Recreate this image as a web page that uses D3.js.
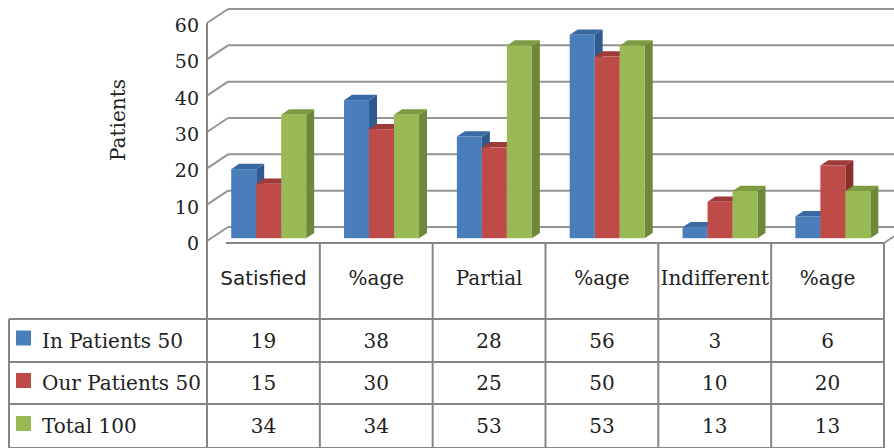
<!DOCTYPE html>
<html>
<head>
<meta charset="utf-8">
<script src="https://cdn.jsdelivr.net/npm/d3@7"></script>
<style>
  body { margin: 0; background: #fff; }
  svg { display: block; }
</style>
</head>
<body>
<div id="chart"></div>
<script>
// data
const categories = ["Satisfied", "%age", "Partial", "%age", "Indifferent", "%age"]
const seriesNames = ["In Patients 50", "Our Patients 50", "Total 100"]
const inPatients = [19, 38, 28, 56, 3, 6]
const ourPatients = [15, 30, 25, 50, 10, 20]
const total = [34, 34, 53, 53, 13, 13]
const yTicks = [0, 10, 20, 30, 40, 50, 60]

const seriesValues = [inPatients, ourPatients, total]

const W = 894, H = 448
const serif = "'DejaVu Serif', serif"
const sans = "'DejaVu Sans', sans-serif"

const styles = [
    { front: "#4a7ebb", side: "#2f5b8e", top: "#3b6aa3" },
    { front: "#be4b48", side: "#8c302e", top: "#9e3a37" },
    { front: "#98b954", side: "#6c8838", top: "#7d9c42" }
]

// 3D projection: z from 0 (front plane) to 1 (back wall)
const depth = { dx: 21, dy: -14 }
const proj = (x, y, z) => [x + z * depth.dx, y + z * depth.dy]

const svg = d3.select("#chart")
    .append("svg")
    .attr("width", W)
    .attr("height", H)

/* SCALES */
const x = d3.scaleBand()
    .domain(d3.range(categories.length))
    .range([207, 884])

const inner = d3.scaleBand()
    .domain(d3.range(seriesNames.length))
    .range([20, 95])

const y = d3.scaleLinear()
    .domain([0, 60])
    .range([241, 23])

/* GRID: back wall lines + diagonals to the front axis */
const grid = svg.append("g")
yTicks.forEach(t => {
    const [bx, by] = proj(207, y(t), 1)
    grid.append("line")
        .attr("x1", bx).attr("y1", by)
        .attr("x2", W + 30).attr("y2", by)
        .attr("stroke", "#959595").attr("stroke-width", 2)
    grid.append("line")
        .attr("x1", 207).attr("y1", y(t))
        .attr("x2", bx).attr("y2", by)
        .attr("stroke", "#959595").attr("stroke-width", 2)
})

// left axis (continues down as table border)
svg.append("line")
    .attr("x1", 207).attr("y1", y(60))
    .attr("x2", 207).attr("y2", H)
    .attr("stroke", "#858585").attr("stroke-width", 2)

// floor front edge
svg.append("line")
    .attr("x1", 226).attr("y1", 243)
    .attr("x2", 884).attr("y2", 243)
    .attr("stroke", "#858585").attr("stroke-width", 2)
svg.append("line")
    .attr("x1", 884).attr("y1", 243)
    .attr("x2", 884 + depth.dx).attr("y2", 243 + depth.dy)
    .attr("stroke", "#959595").attr("stroke-width", 2)

/* Y AXIS LABELS */
svg.append("g")
    .selectAll("text")
    .data(yTicks)
    .enter()
    .append("text")
    .attr("x", 199)
    .attr("y", d => y(d) + 9)
    .attr("text-anchor", "end")
    .style("font-family", serif)
    .style("font-size", "19px")
    .attr("fill", "#222")
    .text(d => d)

svg.append("text")
    .attr("transform", "translate(125,120) rotate(-90)")
    .attr("text-anchor", "middle")
    .style("font-family", serif)
    .style("font-size", "20px")
    .attr("fill", "#222")
    .text("Patients")

/* 3D BARS */
const zf = 0.2, zb = 0.58
const bars = svg.append("g")
categories.forEach((c, i) => {
    seriesValues.forEach((vals, s) => {
        const v = vals[i]
        const x0 = x(i) + inner(s)
        const x1 = x0 + inner.bandwidth()
        const st = styles[s]
        const p = (xx, yy, z) => proj(xx, yy, z).join(",")
        const yt = y(v), yb = y(0)
        // side face
        bars.append("polygon")
            .attr("points", [p(x1, yt, zf), p(x1, yt, zb), p(x1, yb, zb), p(x1, yb, zf)].join(" "))
            .attr("fill", st.side)
        // top face
        bars.append("polygon")
            .attr("points", [p(x0, yt, zf), p(x0, yt, zb), p(x1, yt, zb), p(x1, yt, zf)].join(" "))
            .attr("fill", st.top)
        // front face
        const [fx, fy] = proj(x0, yt, zf)
        bars.append("rect")
            .attr("x", fx).attr("y", fy)
            .attr("width", inner.bandwidth())
            .attr("height", yb - yt)
            .attr("fill", st.front)
    })
})

/* DATA TABLE */
const rowY = [319, 362, 404, 448]
const table = svg.append("g")
const lineColor = "#858585"

// column lines
x.domain().forEach(i => {
    table.append("line")
        .attr("x1", x(i) + x.bandwidth()).attr("y1", 243)
        .attr("x2", x(i) + x.bandwidth()).attr("y2", H)
        .attr("stroke", lineColor).attr("stroke-width", 2)
})
// row lines
rowY.forEach(ry => {
    table.append("line")
        .attr("x1", 9).attr("y1", ry)
        .attr("x2", 884).attr("y2", ry)
        .attr("stroke", lineColor).attr("stroke-width", 2)
})
table.append("line")
    .attr("x1", 9).attr("y1", rowY[0])
    .attr("x2", 9).attr("y2", H)
    .attr("stroke", lineColor).attr("stroke-width", 2)

// header
table.selectAll(".head")
    .data(categories)
    .enter()
    .append("text")
    .attr("class", "head")
    .attr("x", (d, i) => x(i) + x.bandwidth() / 2)
    .attr("y", 285)
    .attr("text-anchor", "middle")
    .style("font-family", (d, i) => i === 0 ? sans : serif)
    .style("font-size", "20px")
    .attr("fill", "#222")
    .text(d => d)

// rows
seriesValues.forEach((vals, s) => {
    const cy = (rowY[s] + rowY[s + 1]) / 2
    table.append("rect")
        .attr("x", 16).attr("y", cy - 10)
        .attr("width", 15).attr("height", 15)
        .attr("fill", styles[s].front)
    table.append("text")
        .attr("x", 42).attr("y", cy + 7)
        .style("font-family", serif)
        .style("font-size", "20px")
        .attr("fill", "#222")
        .text(seriesNames[s])
    table.selectAll(".v" + s)
        .data(vals)
        .enter()
        .append("text")
        .attr("x", (d, i) => x(i) + x.bandwidth() / 2)
        .attr("y", cy + 7)
        .attr("text-anchor", "middle")
        .style("font-family", serif)
        .style("font-size", "20px")
        .attr("fill", "#222")
        .text(d => d)
})
</script>
</body>
</html>
